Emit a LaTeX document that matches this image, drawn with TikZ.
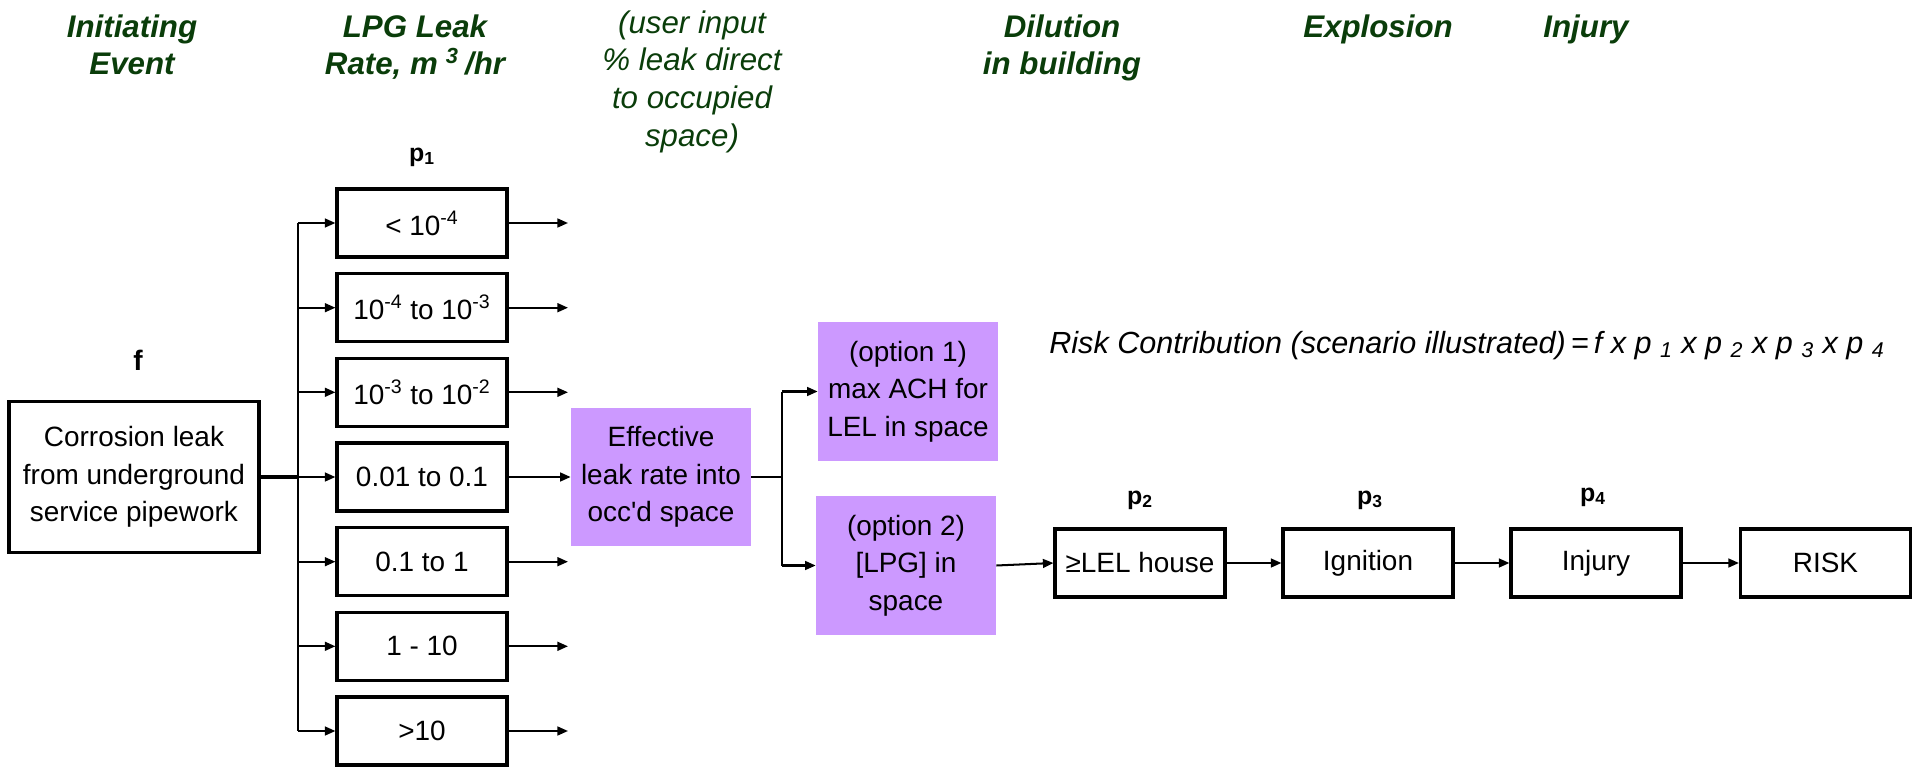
\documentclass[tikz,border=0pt]{standalone}
\usepackage{fontspec}
\setmainfont{Liberation Sans}
\usetikzlibrary{arrows.meta}
\definecolor{hdrgreen}{HTML}{0A3D0A}
\definecolor{lilac}{HTML}{CC99FF}
\newcommand\dgBoxFont{\fontsize{15.9pt}{21.3pt}\selectfont}
\newcommand\dgHdrFont{\fontsize{17.8pt}{21.5pt}\selectfont}
\newcommand\dgFormulaFont{\fontsize{17.4pt}{20pt}\selectfont}
\newcommand\dgLabelFont{\fontsize{14.2pt}{17pt}\selectfont}
\begin{document}
\begin{tikzpicture}[x=0.02cm,y=-0.02cm,
  box/.style={draw=black,line width=1.8pt,minimum width=3.4cm,minimum height=1.36cm,
    inner sep=0pt,align=center,font=\dgBoxFont},
  lilacbox/.style={fill=lilac,minimum width=3.6cm,minimum height=2.78cm,
    inner sep=0pt,align=center,font=\dgBoxFont},
  link/.style={line width=1.15pt},
  arr/.style={link,-{Triangle[length=6pt,width=5pt]}},
  hdr/.style={text=hdrgreen,align=center,anchor=north,inner sep=0pt,
    font=\dgHdrFont\bfseries\itshape},
  plabel/.style={font=\dgLabelFont\bfseries,inner sep=0pt}
]
\useasboundingbox (0,0) rectangle (1920,767);
\fill[white] (0,0) rectangle (1920,767);

% column headings
\node[hdr] (hInit) at (132,14) {Initiating\\Event};
\node[hdr] (hRate) at (415,14) {LPG Leak\\Rate, m\hspace{0.25em}\textsuperscript{3}\hspace{0.2em}/hr};
\node[hdr,font=\dgHdrFont\itshape] (hUser) at (692,10) {(user input\\\% leak direct\\to occupied\\space)};
\node[hdr] (hDil) at (1062,14) {Dilution\\in building};
\node[hdr] (hExp) at (1378,14) {Explosion};
\node[hdr] (hInj) at (1586,14) {Injury};

% initiating event
\node[plabel,font=\fontsize{16pt}{19pt}\selectfont\bfseries] (fLab) at (138,360) {f};
\node[box,minimum width=5cm,minimum height=3.02cm] (corr) at (134,477)
  {Corrosion leak\\from underground\\service pipework};

% leak-rate bands
\node[plabel] (pOne) at (422,157) {p\textsubscript{1}};
\node[box] (r1) at (422,223)   {< 10\textsuperscript{-4}};
\node[box] (r2) at (422,307.7) {10\textsuperscript{-4} to 10\textsuperscript{-3}};
\node[box] (r3) at (422,392.3) {10\textsuperscript{-3} to 10\textsuperscript{-2}};
\node[box] (r4) at (422,477)   {0.01 to 0.1};
\node[box] (r5) at (422,561.7) {0.1 to 1};
\node[box] (r6) at (422,646.3) {1 - 10};
\node[box] (r7) at (422,731)   {>10};

\coordinate (tr) at (298,477);
\draw[line width=1.8pt] (corr.east) -- (tr);
\draw[line width=1.4pt] (r1.west -| tr) -- (r7.west -| tr);
\foreach \i in {1,...,7} \draw[arr] (r\i.west -| tr) -- (r\i.west);

% effective leak rate and the two dilution options
\node[lilacbox] (eff) at (661,477) {Effective\\leak rate into\\occ\textquotesingle d space};
\node[lilacbox] (opt1) at (908,391.5) {(option 1)\\max ACH for\\LEL in space};
\node[lilacbox] (opt2) at (906,565.5) {(option 2)\\{[}LPG] in\\space};

\coordinate (o1) at (568,223);
\coordinate (o2) at (568,307.7);
\coordinate (o3) at (568,392.3);
\coordinate (o5) at (568,561.7);
\coordinate (o6) at (568,646.3);
\coordinate (o7) at (568,731);
\foreach \i in {1,2,3,5,6,7} \draw[arr] (r\i.east) -- (o\i);
\draw[arr] (r4.east) -- (eff.west);

\coordinate (br) at (782,477);
\draw[link] (eff.east) -- (br);
\draw[link] (opt1.west -| br) -- (opt2.west -| br);
\draw[arr] (opt1.west -| br) -- (opt1.west);
\draw[arr] (opt2.west -| br) -- (opt2.west);

% event chain to risk
\node[plabel] (pTwo) at (1140,500) {p\textsubscript{2}};
\node[plabel] (pThree) at (1370,500) {p\textsubscript{3}};
\node[plabel] (pFour) at (1593,497) {p\textsubscript{4}};
\node[box] (lel) at (1140,563) {≥LEL house};
\node[box] (ign) at (1368,563) {Ignition};
\node[box] (inj) at (1596,563) {Injury};
\node[box] (risk) at (1825.5,563) {RISK};
\draw[arr] (opt2.east) -- (lel.west);
\draw[arr] (lel) -- (ign);
\draw[arr] (ign) -- (inj);
\draw[arr] (inj) -- (risk);

% risk equation
\node[anchor=base west,inner sep=0pt,font=\dgFormulaFont\itshape] (formula) at (1049,353)
  {Risk Contribution (scenario illustrated)\,=\,f x p \textsubscript{1} x p \textsubscript{2} x p \textsubscript{3} x p \textsubscript{4}};
\end{tikzpicture}
\end{document}
